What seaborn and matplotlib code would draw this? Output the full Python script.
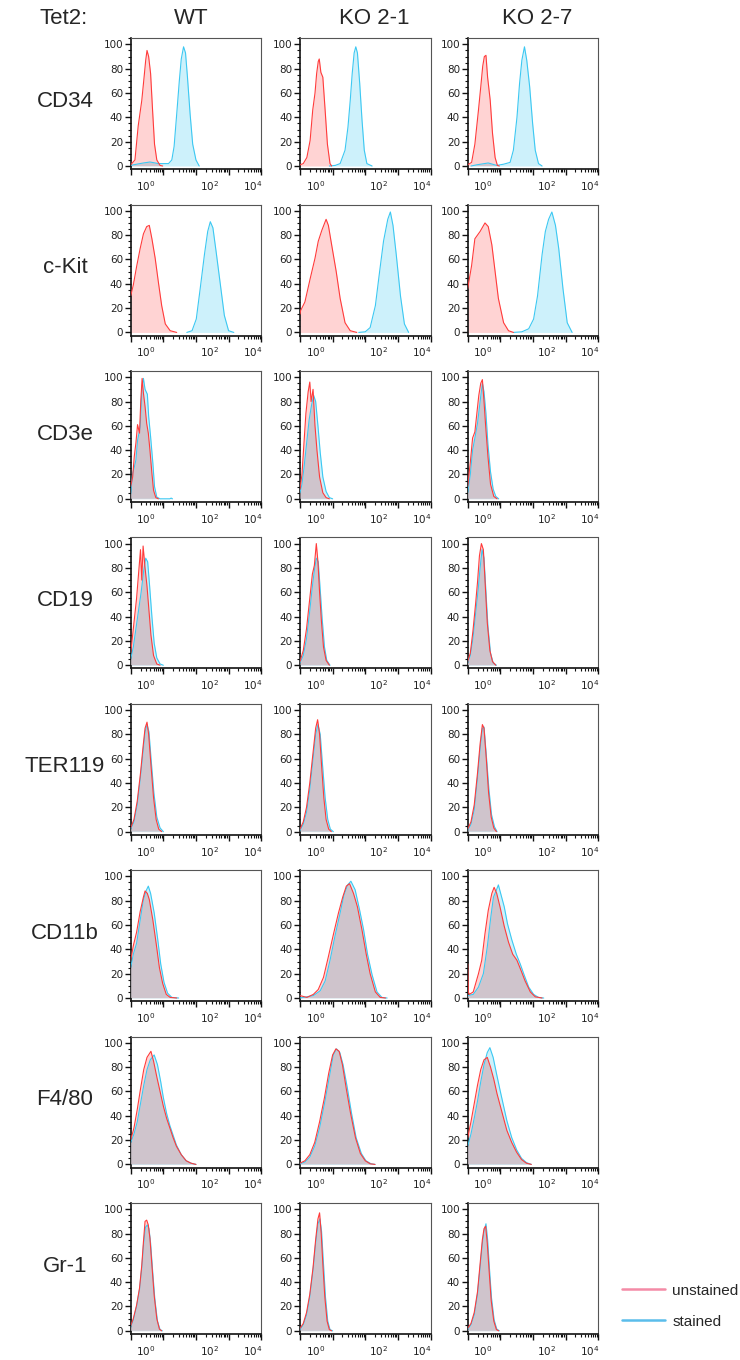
import matplotlib
matplotlib.use("Agg")
import matplotlib.pyplot as plt
import seaborn as sns
from matplotlib.lines import Line2D
from matplotlib.ticker import MultipleLocator, FixedLocator
import numpy as np

sns.set_theme(style="ticks")
plt.rcParams['font.family'] = ['Liberation Sans', 'DejaVu Sans']

# histogram outlines: (log10 position on the axis, % of max)
cd34_wt_unstained = [(0.0, 1), (0.13, 5), (0.23, 33), (0.34, 54), (0.41, 73), (0.46, 87), (0.50, 95),
                     (0.55, 90), (0.61, 76), (0.67, 46), (0.73, 18), (0.80, 5), (0.90, 0.5), (0.98, 0)]
cd34_wt_stained = [(0.0, 0.5), (0.08, 1), (0.39, 2.5), (0.59, 3.3), (0.85, 2), (1.16, 2), (1.26, 5), (1.33, 16),
                   (1.42, 46), (1.49, 70), (1.55, 88), (1.62, 98), (1.68, 93), (1.74, 73), (1.82, 43), (1.90, 18),
                   (2.00, 5), (2.10, 0)]
cd34_ko21_unstained = [(0.0, 1), (0.10, 2), (0.21, 7), (0.31, 21), (0.39, 46), (0.46, 60), (0.51, 76), (0.56, 86),
                       (0.59, 88), (0.64, 77), (0.70, 73), (0.77, 46), (0.84, 18), (0.92, 2), (0.97, 0)]
cd34_ko21_stained = [(0.9, 0), (1.08, 0.5), (1.23, 2), (1.38, 13), (1.47, 32), (1.54, 54), (1.60, 76), (1.66, 93),
                     (1.71, 98), (1.76, 93), (1.83, 68), (1.90, 38), (1.97, 13), (2.05, 2), (2.21, 0)]
cd34_ko27_unstained = [(0.0, 1), (0.12, 3), (0.22, 18), (0.33, 46), (0.40, 65), (0.46, 82), (0.51, 90), (0.56, 91),
                       (0.61, 73), (0.69, 54), (0.76, 27), (0.84, 7), (0.91, 0.5), (0.97, 0)]
cd34_ko27_stained = [(0.1, 0), (0.28, 1), (0.63, 2.5), (0.89, 0.5), (1.10, 1.5), (1.30, 3), (1.40, 13), (1.51, 40),
                     (1.59, 68), (1.66, 87), (1.74, 98), (1.81, 87), (1.90, 65), (1.99, 35), (2.07, 13), (2.17, 2),
                     (2.28, 0)]

ckit_wt_unstained = [(0.0, 30), (0.08, 39), (0.18, 54), (0.29, 69), (0.39, 81), (0.49, 87), (0.57, 88), (0.65, 77),
                     (0.75, 61), (0.85, 41), (0.95, 22), (1.06, 7), (1.21, 1.4), (1.41, 0)]
ckit_wt_stained = [(1.72, 0), (1.88, 1.4), (2.01, 11), (2.13, 36), (2.26, 64), (2.36, 83), (2.44, 91), (2.52, 86),
                   (2.62, 66), (2.75, 39), (2.87, 14), (3.00, 1.4), (3.16, 0)]
ckit_ko21_unstained = [(0.0, 15), (0.02, 18), (0.15, 25), (0.31, 44), (0.46, 61), (0.56, 75), (0.67, 84), (0.80, 93),
                       (0.87, 88), (0.97, 72), (1.11, 50), (1.23, 28), (1.38, 8), (1.54, 1.4), (1.74, 0)]
ckit_ko21_stained = [(1.8, 0), (2.0, 0.5), (2.15, 4), (2.31, 22), (2.44, 50), (2.56, 75), (2.69, 93), (2.77, 99),
                     (2.85, 88), (2.95, 64), (3.08, 30), (3.20, 7), (3.33, 0)]
ckit_ko27_unstained = [(0.0, 36), (0.12, 55), (0.22, 77), (0.38, 83), (0.53, 90), (0.63, 87), (0.74, 72), (0.84, 50),
                       (0.94, 28), (1.10, 8), (1.25, 1.4), (1.40, 0)]
ckit_ko27_stained = [(1.40, 0), (1.66, 0.5), (1.87, 3), (2.02, 11), (2.14, 30), (2.28, 64), (2.38, 83), (2.48, 93),
                     (2.58, 99), (2.69, 88), (2.79, 69), (2.92, 36), (3.05, 8), (3.20, 0)]

cd3e_wt_unstained = [(0.0, 10), (0.06, 18), (0.11, 35), (0.16, 46), (0.21, 61), (0.27, 54), (0.31, 81), (0.35, 99),
                     (0.39, 87), (0.44, 76), (0.49, 62), (0.54, 54), (0.59, 40), (0.65, 21), (0.70, 7), (0.77, 1),
                     (0.85, 0)]
cd3e_wt_stained = [(0.0, 4), (0.06, 21), (0.11, 26), (0.16, 32), (0.21, 48), (0.29, 59), (0.35, 93), (0.39, 99),
                   (0.44, 90), (0.51, 86), (0.55, 68), (0.61, 51), (0.68, 29), (0.73, 10), (0.80, 1.4), (0.90, 0),
                   (1.2, 0), (1.24, 0.6), (1.28, 0)]
cd3e_ko21_unstained = [(0.0, 8), (0.06, 20), (0.12, 45), (0.18, 70), (0.25, 88), (0.30, 96), (0.34, 80), (0.40, 90),
                       (0.46, 60), (0.52, 40), (0.60, 18), (0.70, 5), (0.80, 1), (0.90, 0)]
cd3e_ko21_stained = [(0.0, 5), (0.06, 12), (0.12, 25), (0.20, 45), (0.28, 65), (0.36, 78), (0.42, 85), (0.48, 80),
                     (0.55, 60), (0.62, 38), (0.70, 18), (0.80, 6), (0.90, 1), (1.0, 0)]
cd3e_ko27_unstained = [(0.0, 10), (0.08, 30), (0.15, 50), (0.22, 55), (0.28, 70), (0.34, 85), (0.40, 95), (0.45, 98),
                       (0.50, 80), (0.55, 60), (0.62, 35), (0.70, 12), (0.80, 2), (0.90, 0)]
cd3e_ko27_stained = [(0.0, 5), (0.08, 20), (0.15, 40), (0.22, 50), (0.30, 62), (0.38, 80), (0.45, 95), (0.50, 88),
                     (0.56, 70), (0.62, 45), (0.70, 22), (0.78, 8), (0.86, 2), (0.95, 0)]

cd19_wt_unstained = [(0.0, 10), (0.06, 25), (0.12, 40), (0.18, 55), (0.24, 75), (0.30, 95), (0.34, 70), (0.38, 98),
                     (0.44, 80), (0.50, 65), (0.56, 45), (0.62, 25), (0.70, 8), (0.80, 1), (0.90, 0)]
cd19_wt_stained = [(0.0, 5), (0.08, 15), (0.16, 30), (0.24, 45), (0.32, 60), (0.40, 78), (0.46, 88), (0.52, 85),
                   (0.58, 65), (0.65, 40), (0.72, 18), (0.80, 6), (0.90, 1), (1.0, 0)]
cd19_ko21_unstained = [(0.0, 3), (0.10, 12), (0.20, 30), (0.30, 55), (0.38, 75), (0.44, 82), (0.50, 100), (0.55, 85),
                       (0.60, 60), (0.66, 35), (0.72, 15), (0.80, 4), (0.90, 0)]
cd19_ko21_stained = [(0.0, 2), (0.10, 8), (0.20, 22), (0.30, 45), (0.38, 65), (0.44, 78), (0.50, 88), (0.56, 85),
                     (0.62, 62), (0.68, 38), (0.75, 15), (0.82, 4), (0.92, 0)]
cd19_ko27_unstained = [(0.0, 3), (0.08, 10), (0.16, 28), (0.24, 50), (0.30, 68), (0.36, 90), (0.42, 100), (0.48, 95),
                       (0.54, 65), (0.60, 35), (0.68, 12), (0.76, 3), (0.86, 0)]
cd19_ko27_stained = [(0.0, 2), (0.08, 8), (0.16, 22), (0.24, 42), (0.32, 62), (0.38, 80), (0.44, 95), (0.50, 88),
                     (0.56, 60), (0.62, 32), (0.70, 10), (0.78, 2), (0.88, 0)]

ter119_wt_unstained = [(0.0, 3), (0.10, 10), (0.20, 25), (0.30, 48), (0.38, 70), (0.44, 85), (0.50, 90), (0.55, 80),
                       (0.62, 55), (0.70, 28), (0.78, 10), (0.86, 2), (0.95, 0)]
ter119_wt_stained = [(0.0, 2), (0.10, 8), (0.20, 22), (0.30, 45), (0.38, 66), (0.44, 82), (0.50, 88), (0.56, 82),
                     (0.63, 58), (0.71, 32), (0.80, 12), (0.90, 3), (1.0, 0)]
ter119_ko21_unstained = [(0.0, 2), (0.10, 8), (0.20, 20), (0.30, 40), (0.40, 65), (0.48, 85), (0.54, 92), (0.60, 80),
                         (0.66, 55), (0.73, 28), (0.80, 10), (0.88, 2), (0.96, 0)]
ter119_ko21_stained = [(0.0, 1), (0.10, 6), (0.20, 16), (0.30, 35), (0.40, 60), (0.48, 80), (0.55, 88), (0.62, 80),
                       (0.69, 55), (0.77, 28), (0.85, 10), (0.93, 2), (1.02, 0)]
ter119_ko27_unstained = [(0.0, 2), (0.10, 8), (0.20, 22), (0.30, 48), (0.38, 72), (0.45, 88), (0.50, 85), (0.57, 60),
                         (0.64, 32), (0.72, 12), (0.80, 3), (0.88, 0)]
ter119_ko27_stained = [(0.0, 1), (0.10, 6), (0.20, 18), (0.30, 44), (0.38, 68), (0.45, 85), (0.50, 86), (0.57, 63),
                       (0.65, 35), (0.73, 14), (0.82, 4), (0.90, 0)]

cd11b_wt_unstained = [(0.0, 31), (0.08, 43), (0.18, 54), (0.29, 71), (0.39, 83), (0.44, 88), (0.51, 86), (0.57, 81),
                      (0.68, 64), (0.78, 45), (0.88, 25), (0.98, 12), (1.09, 3), (1.21, 0.5), (1.41, 0)]
cd11b_wt_stained = [(0.0, 25), (0.08, 36), (0.18, 45), (0.29, 64), (0.39, 81), (0.47, 88), (0.54, 92), (0.61, 86),
                    (0.72, 70), (0.82, 50), (0.92, 28), (1.02, 13), (1.13, 4), (1.26, 0.5), (1.47, 0)]
cd11b_ko21_unstained = [(0.0, 2), (0.21, 0.5), (0.41, 3), (0.56, 7), (0.72, 17), (0.87, 34), (1.03, 53), (1.18, 70),
                        (1.31, 83), (1.42, 92), (1.52, 94), (1.64, 86), (1.76, 75), (1.90, 56), (2.03, 36),
                        (2.15, 20), (2.31, 5), (2.46, 0.5), (2.62, 0)]
cd11b_ko21_stained = [(0.0, 0), (0.41, 2), (0.62, 6), (0.77, 14), (0.92, 31), (1.08, 52), (1.23, 70), (1.35, 85),
                      (1.46, 93), (1.56, 96), (1.69, 89), (1.83, 72), (1.95, 56), (2.07, 36), (2.21, 19), (2.36, 5),
                      (2.51, 0.5), (2.67, 0)]
cd11b_ko27_unstained = [(0.0, 28), (0.02, 5), (0.05, 3), (0.17, 5), (0.33, 20), (0.43, 31), (0.53, 53), (0.63, 72),
                        (0.74, 86), (0.81, 91), (0.89, 86), (0.99, 75), (1.12, 59), (1.25, 46), (1.38, 36),
                        (1.51, 31), (1.63, 23), (1.76, 14), (1.92, 5), (2.07, 1), (2.28, 0)]
cd11b_ko27_stained = [(0.0, 2), (0.17, 3), (0.33, 9), (0.48, 20), (0.60, 42), (0.71, 67), (0.79, 83), (0.87, 88),
                      (0.94, 93), (1.01, 86), (1.12, 75), (1.22, 61), (1.35, 48), (1.49, 36), (1.61, 28), (1.73, 19),
                      (1.87, 9), (2.02, 3), (2.17, 0.5), (2.33, 0)]

f480_wt_unstained = [(0.0, 20), (0.10, 30), (0.20, 45), (0.30, 62), (0.40, 78), (0.50, 88), (0.62, 93), (0.70, 85),
                     (0.80, 72), (0.90, 60), (1.0, 48), (1.10, 38), (1.20, 30), (1.30, 22), (1.40, 15), (1.55, 8),
                     (1.70, 3), (1.85, 1), (2.0, 0)]
f480_wt_stained = [(0.0, 18), (0.10, 25), (0.20, 35), (0.30, 50), (0.40, 65), (0.50, 78), (0.60, 86), (0.72, 90),
                   (0.82, 82), (0.92, 68), (1.0, 55), (1.10, 42), (1.20, 32), (1.30, 24), (1.40, 16), (1.55, 8),
                   (1.70, 3), (1.85, 1), (2.0, 0)]
f480_ko21_unstained = [(0.0, 1), (0.15, 3), (0.30, 8), (0.45, 18), (0.60, 35), (0.75, 55), (0.88, 75), (1.0, 90),
                       (1.10, 95), (1.20, 93), (1.30, 82), (1.42, 62), (1.55, 42), (1.70, 22), (1.85, 9), (2.0, 3),
                       (2.15, 0.5), (2.30, 0)]
f480_ko21_stained = [(0.0, 0.5), (0.15, 2), (0.30, 6), (0.45, 15), (0.60, 30), (0.75, 50), (0.90, 72), (1.02, 90),
                     (1.12, 95), (1.22, 92), (1.32, 82), (1.45, 63), (1.58, 42), (1.72, 22), (1.88, 9), (2.02, 3),
                     (2.18, 0.5), (2.30, 0)]
f480_ko27_unstained = [(0.0, 22), (0.10, 35), (0.20, 50), (0.30, 65), (0.40, 78), (0.50, 86), (0.60, 88), (0.70, 80),
                       (0.80, 70), (0.90, 58), (1.0, 48), (1.10, 38), (1.20, 28), (1.35, 18), (1.50, 10), (1.65, 4),
                       (1.80, 1), (1.95, 0)]
f480_ko27_stained = [(0.0, 15), (0.10, 25), (0.20, 38), (0.30, 52), (0.40, 68), (0.50, 82), (0.60, 92), (0.68, 96),
                     (0.78, 88), (0.88, 75), (1.0, 60), (1.10, 48), (1.20, 36), (1.35, 22), (1.50, 12), (1.65, 5),
                     (1.80, 1.5), (1.95, 0)]

gr1_wt_unstained = [(0.0, 4), (0.08, 10), (0.18, 21), (0.27, 35), (0.34, 54), (0.39, 73), (0.44, 90), (0.49, 91),
                    (0.54, 87), (0.59, 76), (0.65, 54), (0.72, 29), (0.80, 10), (0.88, 1.4), (0.95, 0)]
gr1_wt_stained = [(0.0, 3), (0.08, 9), (0.18, 20), (0.27, 34), (0.34, 52), (0.39, 70), (0.45, 85), (0.51, 87),
                  (0.56, 84), (0.61, 72), (0.67, 50), (0.74, 26), (0.82, 8), (0.90, 1), (0.97, 0)]
gr1_ko21_unstained = [(0.0, 2), (0.10, 6), (0.20, 15), (0.30, 30), (0.40, 52), (0.48, 75), (0.55, 92), (0.60, 97),
                      (0.65, 80), (0.70, 55), (0.76, 28), (0.83, 8), (0.90, 1), (0.97, 0)]
gr1_ko21_stained = [(0.0, 1), (0.10, 5), (0.20, 13), (0.30, 28), (0.40, 50), (0.48, 72), (0.55, 88), (0.61, 92),
                    (0.66, 82), (0.72, 55), (0.78, 28), (0.85, 8), (0.92, 1), (1.0, 0)]
gr1_ko27_unstained = [(0.0, 2), (0.10, 6), (0.20, 15), (0.30, 32), (0.38, 55), (0.45, 75), (0.50, 84), (0.55, 86),
                      (0.60, 72), (0.66, 48), (0.72, 25), (0.80, 8), (0.88, 1), (0.95, 0)]
gr1_ko27_stained = [(0.0, 1), (0.10, 5), (0.20, 13), (0.30, 30), (0.38, 52), (0.45, 72), (0.50, 82), (0.56, 88),
                    (0.61, 75), (0.67, 50), (0.73, 27), (0.81, 9), (0.89, 1.5), (0.97, 0)]

markers = ["CD34", "c-Kit", "CD3e", "CD19", "TER119", "CD11b", "F4/80", "Gr-1"]
groups = ["WT", "KO 2-1", "KO 2-7"]
x_labels = ["$10^0$", "$10^2$", "$10^4$"]

curves = [
    [(cd34_wt_unstained, cd34_wt_stained), (cd34_ko21_unstained, cd34_ko21_stained), (cd34_ko27_unstained, cd34_ko27_stained)],
    [(ckit_wt_unstained, ckit_wt_stained), (ckit_ko21_unstained, ckit_ko21_stained), (ckit_ko27_unstained, ckit_ko27_stained)],
    [(cd3e_wt_unstained, cd3e_wt_stained), (cd3e_ko21_unstained, cd3e_ko21_stained), (cd3e_ko27_unstained, cd3e_ko27_stained)],
    [(cd19_wt_unstained, cd19_wt_stained), (cd19_ko21_unstained, cd19_ko21_stained), (cd19_ko27_unstained, cd19_ko27_stained)],
    [(ter119_wt_unstained, ter119_wt_stained), (ter119_ko21_unstained, ter119_ko21_stained), (ter119_ko27_unstained, ter119_ko27_stained)],
    [(cd11b_wt_unstained, cd11b_wt_stained), (cd11b_ko21_unstained, cd11b_ko21_stained), (cd11b_ko27_unstained, cd11b_ko27_stained)],
    [(f480_wt_unstained, f480_wt_stained), (f480_ko21_unstained, f480_ko21_stained), (f480_ko27_unstained, f480_ko27_stained)],
    [(gr1_wt_unstained, gr1_wt_stained), (gr1_ko21_unstained, gr1_ko21_stained), (gr1_ko27_unstained, gr1_ko27_stained)],
]

red_line, red_fill = "#FF3B3B", "#FFD3D3"
blue_line, blue_fill = "#3CC8F2", "#CDF1FB"
overlap_fill = "#CFC4CC"

W, H = 740, 1360
fig = plt.figure(figsize=(W / 100, H / 100), dpi=100)

col_left = [130.7, 300, 467.7]
panel_w, panel_h = 130.5, 131
row_top0, row_step = 38.3, 166.4

minor_x = [d + np.log10(k) for d in range(4) for k in range(2, 10)]

for r, marker in enumerate(markers):
    top = row_top0 + r * row_step
    for c, grp in enumerate(groups):
        ax = fig.add_axes([col_left[c] / W, 1 - (top + panel_h) / H, panel_w / W, panel_h / H])
        unst, st = curves[r][c]
        ux, uy = zip(*unst)
        sx, sy = zip(*st)

        # red and blue fills, the part where both overlap is drawn darker
        rf = ax.fill_between(ux, uy, 0, color=red_fill, lw=0, zorder=1)
        ax.fill_between(sx, sy, 0, color=blue_fill, lw=0, zorder=2)
        ov = ax.fill_between(sx, sy, 0, color=overlap_fill, lw=0, zorder=3)
        ov.set_clip_path(rf.get_paths()[0], ax.transData)

        sns.lineplot(x=list(sx), y=list(sy), ax=ax, color=blue_line, lw=0.8, sort=False, estimator=None, zorder=4)
        sns.lineplot(x=list(ux), y=list(uy), ax=ax, color=red_line, lw=0.8, sort=False, estimator=None, zorder=5)

        ax.set_xlim(0, 4)
        ax.set_ylim(-2.7, 105)
        ax.set_xlabel("")
        ax.set_ylabel("")

        ax.xaxis.set_major_locator(FixedLocator([0, 1, 2, 3, 4]))
        ax.xaxis.set_minor_locator(FixedLocator(minor_x))
        ax.set_xticklabels([])
        ax.yaxis.set_major_locator(MultipleLocator(20))
        ax.yaxis.set_minor_locator(MultipleLocator(5))
        ax.tick_params(axis="both", which="major", direction="out", length=4, width=1, color="#111111",
                       labelsize=7.5, labelcolor="#222222", pad=1.5)
        ax.tick_params(axis="both", which="minor", direction="out", length=2, width=0.8, color="#111111")
        for lab in ax.get_yticklabels():
            lab.set_family("DejaVu Sans")

        for xp, txt in zip([0.47, 2.41, 3.73], x_labels):
            ax.text(xp, -0.075, txt, transform=ax.get_xaxis_transform(), ha="center", va="top",
                    fontsize=7.5, color="#222222")

        for side in ["left", "bottom"]:
            ax.spines[side].set_color("#111111")
            ax.spines[side].set_linewidth(1.2)
        for side in ["top", "right"]:
            ax.spines[side].set_color("#555555")
            ax.spines[side].set_linewidth(0.8)

    fig.text(65 / W, 1 - (top + 63) / H, marker, ha="center", va="center", fontsize=16)

fig.text(64 / W, 1 - 18 / H, "Tet2:", ha="center", va="center", fontsize=16)
for xc, grp in zip([191, 374, 537], groups):
    fig.text(xc / W, 1 - 18 / H, grp, ha="center", va="center", fontsize=16)

handles = [Line2D([], [], color="#F48BA6", lw=1.8), Line2D([], [], color="#5BBDEB", lw=1.8)]
fig.legend(handles, ["unstained", "stained"], loc="upper left", bbox_to_anchor=(608 / W, 1 - 1270 / H),
           frameon=False, fontsize=11, handlelength=2.8, handletextpad=0.5, labelspacing=1.1)

fig.savefig("out.png", dpi=100)
